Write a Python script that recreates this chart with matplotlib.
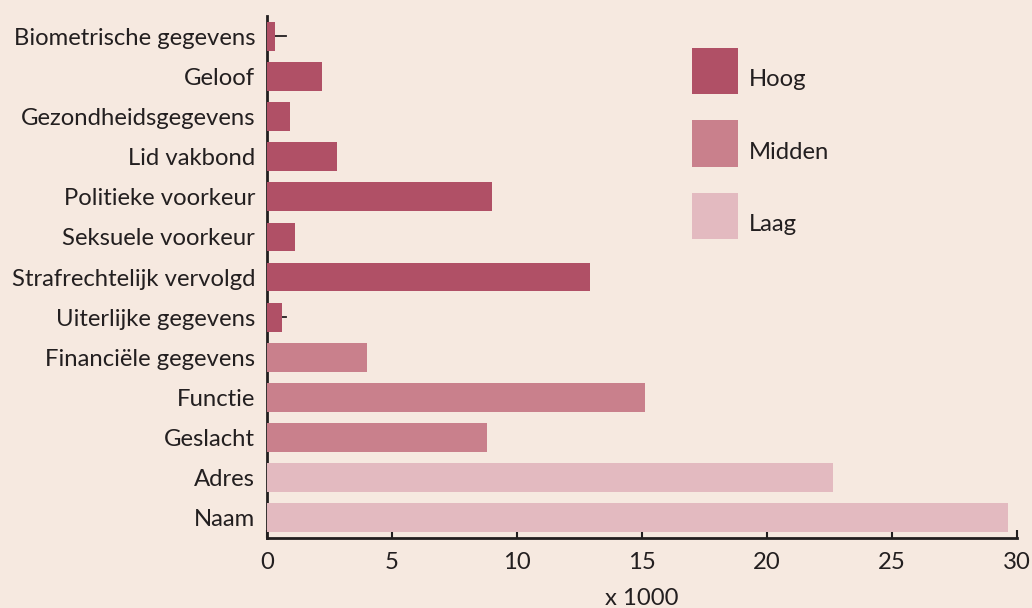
import matplotlib.pyplot as plt
from matplotlib.patches import Rectangle

categories = [
    "Biometrische gegevens", "Geloof", "Gezondheidsgegevens", "Lid vakbond",
    "Politieke voorkeur", "Seksuele voorkeur", "Strafrechtelijk vervolgd",
    "Uiterlijke gegevens", "Financiële gegevens", "Functie", "Geslacht",
    "Adres", "Naam",
]
values = [0.32, 2.2, 0.92, 2.8, 9.0, 1.12, 12.9, 0.6, 4.0, 15.1, 8.8, 22.65, 29.65]
levels = ["Hoog"] * 8 + ["Midden"] * 3 + ["Laag"] * 2
# bovenste foutmarge (alleen zichtbaar bij twee kleine balken)
err_upper = [0.43, 0, 0, 0, 0, 0, 0, 0.15, 0, 0, 0, 0, 0]
legend_labels = ["Hoog", "Midden", "Laag"]

colors = {"Hoog": "#b05066", "Midden": "#c9808c", "Laag": "#e3bac0"}
bg = "#f6e9e0"
txt = "#231f20"
fs = 17.2
W, H = 1032, 608

plt.rcParams["font.family"] = ["Lato", "DejaVu Sans"]

fig = plt.figure(figsize=(W / 100, H / 100), dpi=100, facecolor=bg)
ax = fig.add_axes([267 / W, 1 - 537.7 / H, 750 / W, (537.7 - 16) / H])
ax.set_facecolor(bg)

ypos = list(range(len(categories)))
ax.barh(ypos, values, height=0.72, color=[colors[l] for l in levels], zorder=3)
for y, v, e in zip(ypos, values, err_upper):
    if e > 0:
        ax.plot([v, v + e], [y, y], color=txt, lw=1.3, zorder=2)

ax.set_ylim(12.5, -0.51)
ax.set_xlim(0, 30)
ax.set_yticks(ypos)
ax.set_yticklabels(categories, fontsize=fs, color=txt)
ax.set_xticks(range(0, 31, 5))
ax.tick_params(axis="y", length=0, pad=8.5)
ax.tick_params(axis="x", direction="in", length=6, width=1.5, labelsize=fs,
               labelcolor=txt, color=txt, pad=10)
ax.set_xlabel("x 1000", fontsize=fs, color=txt, labelpad=11)

for s in ["top", "right"]:
    ax.spines[s].set_visible(False)
for s in ["left", "bottom"]:
    ax.spines[s].set_linewidth(2)
    ax.spines[s].set_color(txt)

# legenda met losse vlakjes, zoals in het origineel
for i, lab in enumerate(legend_labels):
    top = 48 + i * 72.5
    fig.patches.append(Rectangle((692 / W, 1 - (top + 46) / H), 46 / W, 46 / H,
                                 transform=fig.transFigure, facecolor=colors[lab],
                                 edgecolor="none"))
    fig.text(749 / W, 1 - (top + 38) / H, lab, fontsize=fs, color=txt,
             va="baseline", ha="left")

fig.savefig("out.png", dpi=100, facecolor=bg)
